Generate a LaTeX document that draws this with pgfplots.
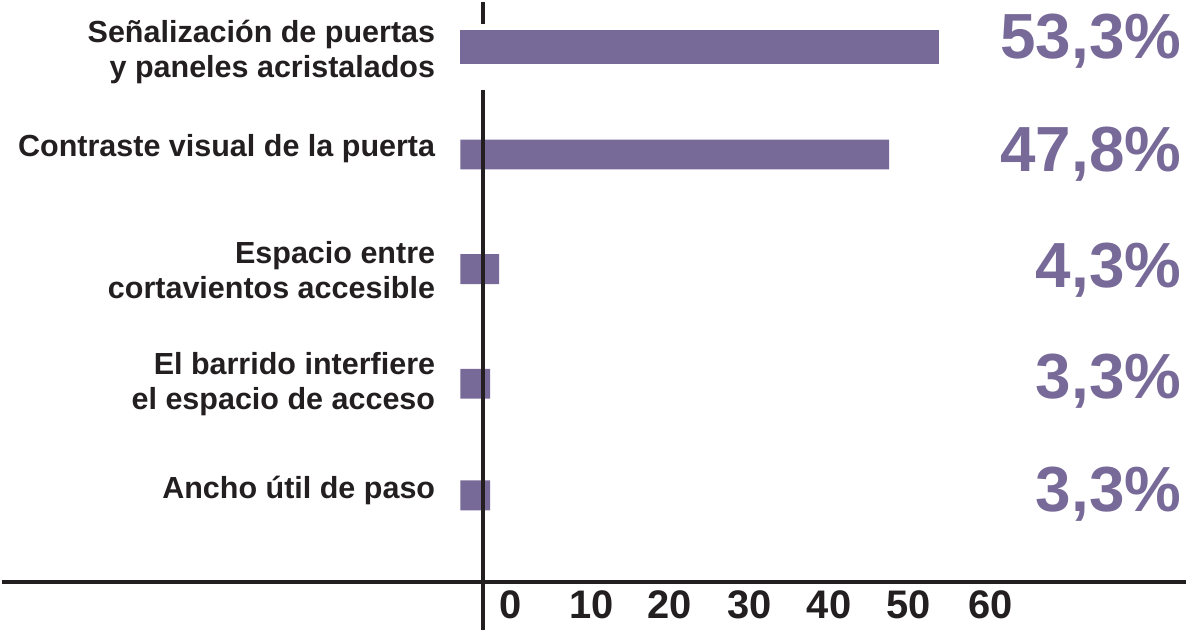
\documentclass[border=0pt]{standalone}
\usepackage{pgfplots}
\pgfplotsset{compat=1.18}
\usepackage{fontspec}
\setmainfont{Liberation Sans}
\definecolor{barcol}{RGB}{120,106,152}
\definecolor{axcol}{RGB}{35,31,32}
\begin{document}
\begin{tikzpicture}
\begin{axis}[
  scale only axis, width=594pt, height=291pt,
  xmin=-51.11, xmax=80.89, ymin=0, ymax=582,
  clip=false,
  axis x line=bottom, axis y line=none,
  x axis line style={-, line width=2pt, color=axcol},
  xtick={5.56,14.6,23.3,32.2,41.1,50,59.1},
  xticklabels={0,10,20,30,40,50,60},
  major tick length=0pt,
  /pgf/number format/assume math mode=true,
  xticklabel style={font=\fontsize{20}{20}\selectfont\bfseries, text=axcol, yshift=-1pt},
]
\addplot[xbar, bar shift=0pt, bar width=17pt, fill=barcol, draw=none] coordinates {(53.3,537)};
\addplot[xbar, bar shift=0pt, bar width=15pt, fill=barcol, draw=none] coordinates {(47.8,429) (4.3,314) (3.3,199) (3.3,87)};
\draw[line width=2pt, color=axcol] (axis cs:2.56,582) -- (axis cs:2.56,560);
\draw[line width=2pt, color=axcol] (axis cs:2.56,494) -- (axis cs:2.56,-48);
\begin{scope}[every node/.style={anchor=east, align=right, inner sep=0pt, text=axcol, font=\fontsize{15.3}{17.5}\selectfont\bfseries}]
\node at (axis cs:-2.78,532) {Señalización de puertas\\y paneles acristalados};
\node at (axis cs:-2.78,435) {Contraste visual de la puerta};
\node at (axis cs:-2.78,313) {Espacio entre\\cortavientos accesible};
\node at (axis cs:-2.78,199) {El barrido interfiere\\el espacio de acceso};
\node at (axis cs:-2.78,92) {Ancho útil de paso};
\end{scope}
\begin{scope}[every node/.style={anchor=east, inner sep=0pt, text=barcol, font=\fontsize{32}{32}\selectfont\bfseries}]
\node at (axis cs:80.4,543) {53,3\%};
\node at (axis cs:80.4,429) {47,8\%};
\node at (axis cs:80.4,313) {4,3\%};
\node at (axis cs:80.4,202) {3,3\%};
\node at (axis cs:80.4,88) {3,3\%};
\end{scope}
\end{axis}
\end{tikzpicture}
\end{document}
